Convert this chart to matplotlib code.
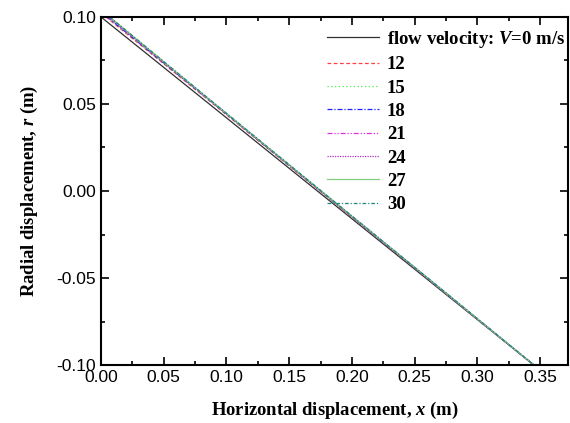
import numpy as np
import matplotlib.pyplot as plt
from matplotlib.ticker import MultipleLocator

# radial levels and horizontal positions
r_levels = [0.10, 0.05, 0.00, -0.05, -0.10]
velocities = [0, 12, 15, 18, 21, 24, 27, 30]
x_v0 = [0.000, 0.0863, 0.1725, 0.2588, 0.345]
x_v12 = [0.004, 0.0895, 0.1745, 0.2598, 0.345]
x_v15 = [0.005, 0.0900, 0.1748, 0.2600, 0.345]
x_v18 = [0.005, 0.0902, 0.1750, 0.2601, 0.345]
x_v21 = [0.006, 0.0905, 0.1752, 0.2602, 0.345]
x_v24 = [0.006, 0.0906, 0.1753, 0.2603, 0.345]
x_v27 = [0.007, 0.0908, 0.1755, 0.2604, 0.345]
x_v30 = [0.007, 0.0910, 0.1756, 0.2605, 0.345]
series = [x_v0, x_v12, x_v15, x_v18, x_v21, x_v24, x_v27, x_v30]

styles = [
    ('#303030', '-'),
    ('#ff4040', (0, (3, 2))),
    ('#40f040', (0, (1, 2))),
    ('#2020ff', (0, (4, 1.5, 1, 1.5))),
    ('#e030e0', (0, (4, 1.5, 1, 1.5, 1, 1.5))),
    ('#b030c0', (0, (1, 1))),
    ('#80d080', '-'),
    ('#208878', (0, (3, 1.5, 1, 1.5))),
]

plt.rcParams['font.family'] = ['Liberation Sans', 'DejaVu Sans']
plt.rcParams['mathtext.fontset'] = 'custom'
plt.rcParams['mathtext.it'] = 'Liberation Serif:italic:bold'
plt.rcParams['mathtext.rm'] = 'Liberation Serif:bold'
serif_b = dict(family='Liberation Serif', weight='bold')

fig, ax = plt.subplots(figsize=(5.7, 4.23), dpi=100)
fig.subplots_adjust(left=0.177, right=0.996, top=0.96, bottom=0.137)

for i, (v, xs) in enumerate(zip(velocities, series)):
    c, ls = styles[i]
    if v == 0:
        lab = 'flow velocity: $V$=0 m/s'
    else:
        lab = str(v)
    ax.plot(xs, r_levels, color=c, linestyle=ls, lw=0.9, label=lab)

ax.set_xlim(0, 0.372)
ax.set_ylim(-0.10, 0.10)
ax.xaxis.set_major_locator(MultipleLocator(0.05))
ax.xaxis.set_minor_locator(MultipleLocator(0.025))
ax.yaxis.set_major_locator(MultipleLocator(0.05))
ax.yaxis.set_minor_locator(MultipleLocator(0.025))
ax.xaxis.set_major_formatter(plt.FormatStrFormatter('%.2f'))
ax.yaxis.set_major_formatter(plt.FormatStrFormatter('%.2f'))
ax.tick_params(which='both', direction='in', top=True, right=True, labelsize=12.5, width=1.2)
ax.tick_params(which='major', length=6)
ax.tick_params(which='minor', length=3)
for s in ax.spines.values():
    s.set_linewidth(1.5)

ax.set_xlabel('Horizontal displacement, $x$ (m)', fontsize=13.4, labelpad=11, **serif_b)
ax.set_ylabel('Radial displacement, $r$ (m)', fontsize=13.4, labelpad=12, **serif_b)

leg = ax.legend(loc='upper right', bbox_to_anchor=(1.003, 0.976), frameon=False,
                handlelength=2.8, handletextpad=0.4,
                labelspacing=0.33, borderaxespad=0.1, borderpad=0.1,
                prop=dict(family='Liberation Serif', weight='bold', size=13.5))

fig.savefig('out.png', dpi=100)
